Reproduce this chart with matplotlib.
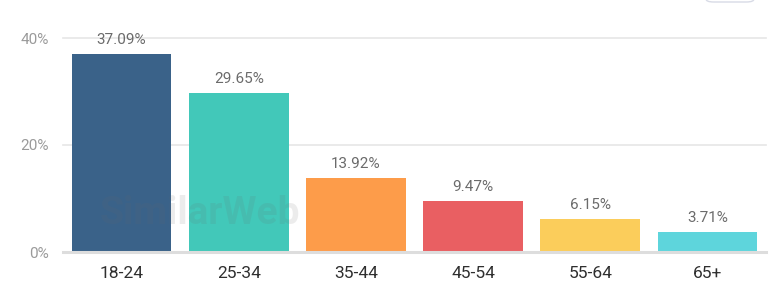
import matplotlib.pyplot as plt
from matplotlib.patches import FancyBboxPatch

plt.rcParams["font.family"] = ["Roboto", "DejaVu Sans"]

AGE_GROUPS = ["18-24", "25-34", "35-44", "45-54", "55-64", "65+"]
SHARES = [37.09, 29.65, 13.92, 9.47, 6.15, 3.71]
BAR_COLORS = ["#3a6289", "#42c8b9", "#fd9c4a", "#e95f62", "#fbcd5b", "#5ed5dc"]
Y_TICKS = [0, 20, 40]

TICK_GREY = "#9a9a9a"
VALUE_GREY = "#6b6b6b"
INK = "#2f2f2f"
GRID = "#e6e6e6"

fig = plt.figure(figsize=(7.82, 3.05), dpi=100)
ax = fig.add_axes((63 / 782, 1 - 252 / 305, 703 / 782, 214 / 305))

x = range(len(AGE_GROUPS))
bars = ax.bar(x, SHARES, width=0.85, color=BAR_COLORS, zorder=3)
for bar, value in zip(bars, SHARES):
    ax.annotate(
        f"{value:.2f}%",
        (bar.get_x() + bar.get_width() / 2, value),
        xytext=(0, 5),
        textcoords="offset points",
        ha="center",
        va="bottom",
        fontsize=11,
        color=VALUE_GREY,
        annotation_clip=False,
        zorder=4,
    )

ax.set_xlim(-0.5, len(AGE_GROUPS) - 0.5)
ax.set_ylim(0, 40)
ax.set_yticks(Y_TICKS, [f"{t}%" for t in Y_TICKS])
ax.set_xticks(list(x), AGE_GROUPS)
ax.tick_params(axis="y", length=0, pad=10, labelsize=11, labelcolor=TICK_GREY)
ax.tick_params(axis="x", length=0, pad=10, labelsize=12.5, labelcolor=INK)
for spine in ax.spines.values():
    spine.set_visible(False)
for t in Y_TICKS[1:]:
    ax.axhline(t, color=GRID, linewidth=1.2, zorder=1, clip_on=False)
ax.axhline(0, color="#dddddd", linewidth=2.2, zorder=4, clip_on=False)

# faint watermark
fig.text(0.255, 0.30, "SimilarWeb", fontsize=28, weight="bold", color="#6a6a6a",
         alpha=0.12, ha="center", va="center", zorder=5)

# partial button in the top-right corner
fig.patches.append(FancyBboxPatch((706 / 782, 1.0 - 2 / 305), 48 / 782, 0.05,
                                  boxstyle="round,pad=0,rounding_size=0.01",
                                  transform=fig.transFigure, facecolor="white",
                                  edgecolor="#d8dbe6", linewidth=1.0))

fig.savefig("out.png", dpi=100)
